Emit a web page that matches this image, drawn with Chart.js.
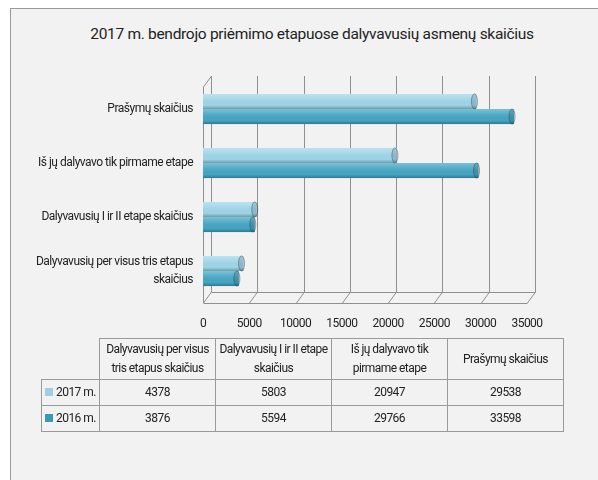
<!DOCTYPE html>
<html>
<head>
<meta charset="utf-8">
<script src="https://cdn.jsdelivr.net/npm/chart.js@4"></script>
<style>
  html, body { margin: 0; padding: 0; background: #fff; overflow: hidden; }
  body { width: 598px; height: 480px; position: relative; font-family: Roboto, sans-serif; color: #222; }
  #frame { position: absolute; left: 10px; top: 8px; width: 600px; height: 480px;
           border-left: 1px solid #9a9a9a; border-top: 1px solid #9a9a9a; background: #f2f2f2; }
  #title { position: absolute; left: 0; width: 624px; top: 25px; text-align: center; font-size: 15.5px; letter-spacing: -0.3px; }
  #wrap { position: absolute; left: 0; top: 0; width: 598px; height: 480px; }
  table { position: absolute; left: 41px; top: 338px; border-collapse: collapse; font-size: 12px; letter-spacing: -0.55px; table-layout: fixed; }
  td { border: 1px solid #9a9a9a; text-align: center; padding: 0; line-height: 19px; overflow: hidden; }
  td.blank { border: none; border-right: 1px solid #9a9a9a; }
  tr.head td { height: 40px; }
  tr.row td { height: 25px; }
  td.leg { width: 54px; text-align: left; padding-left: 3px; white-space: nowrap; }
  td.col { width: 115px; }
  .sw { display: inline-block; width: 8px; height: 8px; margin-right: 3px; }
</style>
</head>
<body>
<div id="frame"></div>
<div id="title">2017 m. bendrojo priėmimo etapuose dalyvavusių asmenų skaičius</div>
<div id="wrap"><canvas id="chart"></canvas></div>
<table id="tbl"></table>
<script>
var kategorijos = [
  "Dalyvavusių per visus tris etapus skaičius",
  "Dalyvavusių I ir II etape skaičius",
  "Iš jų dalyvavo tik pirmame etape",
  "Prašymų skaičius"
];
var ašiesPavadinimai = [
  ["Dalyvavusių per visus tris etapus", "skaičius"],
  "Dalyvavusių I ir II etape skaičius",
  "Iš jų dalyvavo tik pirmame etape",
  "Prašymų skaičius"
];
var metai2017 = [4378, 5803, 20947, 29538];
var metai2016 = [3876, 5594, 29766, 33598];
var serijos = ["2017 m.", "2016 m."];
var spalvos = ["#9fd5e9", "#45a6c3"];
var legendosSpalvos = ["#9dcfe0", "#3b9ab3"];

// lentelė po diagrama
var tbl = document.getElementById("tbl");
var html = '<tr class="head"><td class="blank leg"></td>';
kategorijos.forEach(function (k) { html += '<td class="col">' + k + '</td>'; });
html += '</tr>';
[metai2017, metai2016].forEach(function (vals, i) {
  html += '<tr class="row"><td class="leg"><span class="sw" style="background:' + legendosSpalvos[i] + '"></span>' + serijos[i] + '</td>';
  vals.forEach(function (v) { html += '<td class="col">' + v + '</td>'; });
  html += '</tr>';
});
tbl.innerHTML = html;

// siauresnis šriftas drobėje
var tarpai = {
  id: "tarpai",
  beforeUpdate: function (chart) { chart.ctx.letterSpacing = "-0.5px"; },
  beforeDraw: function (chart) { chart.ctx.letterSpacing = "-0.5px"; }
};

// 3D sienelės ir tinklelis
var siena = {
  id: "siena",
  beforeDatasetsDraw: function (chart) {
    var ctx = chart.ctx, ca = chart.chartArea, xs = chart.scales.x;
    var dx = 8, dy = 11;
    var fy = ca.bottom + 5, by = fy - dy, ty = ca.top - 6;
    ctx.save();
    ctx.strokeStyle = "#8f8f8f";
    ctx.lineWidth = 1;
    xs.ticks.forEach(function (t) {
      var px = Math.round(xs.getPixelForValue(t.value)) + 0.5;
      ctx.beginPath();
      ctx.moveTo(px, fy);
      ctx.lineTo(px + dx, by);
      ctx.lineTo(px + dx, ty);
      ctx.stroke();
    });
    var x0 = Math.round(xs.getPixelForValue(xs.min)) + 0.5;
    var x1 = Math.round(xs.getPixelForValue(xs.max)) + 0.5;
    ctx.beginPath();
    ctx.moveTo(x0, fy + 0.5); ctx.lineTo(x1, fy + 0.5);
    ctx.moveTo(x0 + dx, by + 0.5); ctx.lineTo(x1 + dx, by + 0.5);
    ctx.moveTo(x0, fy); ctx.lineTo(x0, ty + dy); ctx.lineTo(x0 + dx, ty);
    ctx.stroke();
    ctx.restore();
  },
  afterDatasetsDraw: function (chart) {
    var ctx = chart.ctx;
    chart.data.datasets.forEach(function (ds, i) {
      chart.getDatasetMeta(i).data.forEach(function (el) {
        var p = el.getProps(["x", "y", "base", "height"], true);
        var top = p.y - p.height / 2;
        var g = ctx.createLinearGradient(0, top, 0, top + p.height);
        g.addColorStop(0, "rgba(255,255,255,0.30)");
        g.addColorStop(0.35, "rgba(255,255,255,0.08)");
        g.addColorStop(0.75, "rgba(0,0,0,0)");
        g.addColorStop(1, "rgba(0,0,0,0.28)");
        ctx.save();
        ctx.fillStyle = g;
        ctx.fillRect(p.base, top, p.x - p.base, p.height);
        ctx.beginPath();
        ctx.ellipse(p.x - 2, p.y, 3, p.height / 2, 0, 0, Math.PI * 2);
        ctx.fillStyle = "rgba(0,0,0,0.12)";
        ctx.fill();
        ctx.strokeStyle = "rgba(40,70,80,0.45)";
        ctx.stroke();
        ctx.restore();
      });
    });
  }
};

new Chart(document.getElementById("chart"), {
  type: "bar",
  data: {
    labels: ašiesPavadinimai,
    datasets: [
      { label: serijos[0], data: metai2017, backgroundColor: spalvos[0], barPercentage: 1, categoryPercentage: 0.56 },
      { label: serijos[1], data: metai2016, backgroundColor: spalvos[1], barPercentage: 1, categoryPercentage: 0.56 }
    ]
  },
  options: {
    indexAxis: "y",
    responsive: true,
    maintainAspectRatio: false,
    animation: false,
    devicePixelRatio: 1,
    layout: { padding: { top: 82, right: 71, left: 0, bottom: 0 } },
    plugins: {
      legend: { display: false },
      title: { display: false },
      tooltip: { enabled: false }
    },
    scales: {
      x: {
        min: 0, max: 35000,
        grid: { display: false, drawTicks: false },
        border: { display: false },
        ticks: {
          stepSize: 5000, padding: 19, color: "#222", maxRotation: 0,
          font: { family: "Roboto, sans-serif", size: 12 },
          callback: function (v) { return String(v); }
        },
        afterFit: function (s) { s.height = 182; }
      },
      y: {
        reverse: true,
        grid: { display: false, drawTicks: false },
        border: { display: false },
        ticks: {
          padding: 10, color: "#222",
          font: { family: "Roboto, sans-serif", size: 12, lineHeight: 1.5 }
        },
        afterFit: function (s) { s.width = 203; }
      }
    }
  },
  plugins: [tarpai, siena]
});
</script>
</body>
</html>
